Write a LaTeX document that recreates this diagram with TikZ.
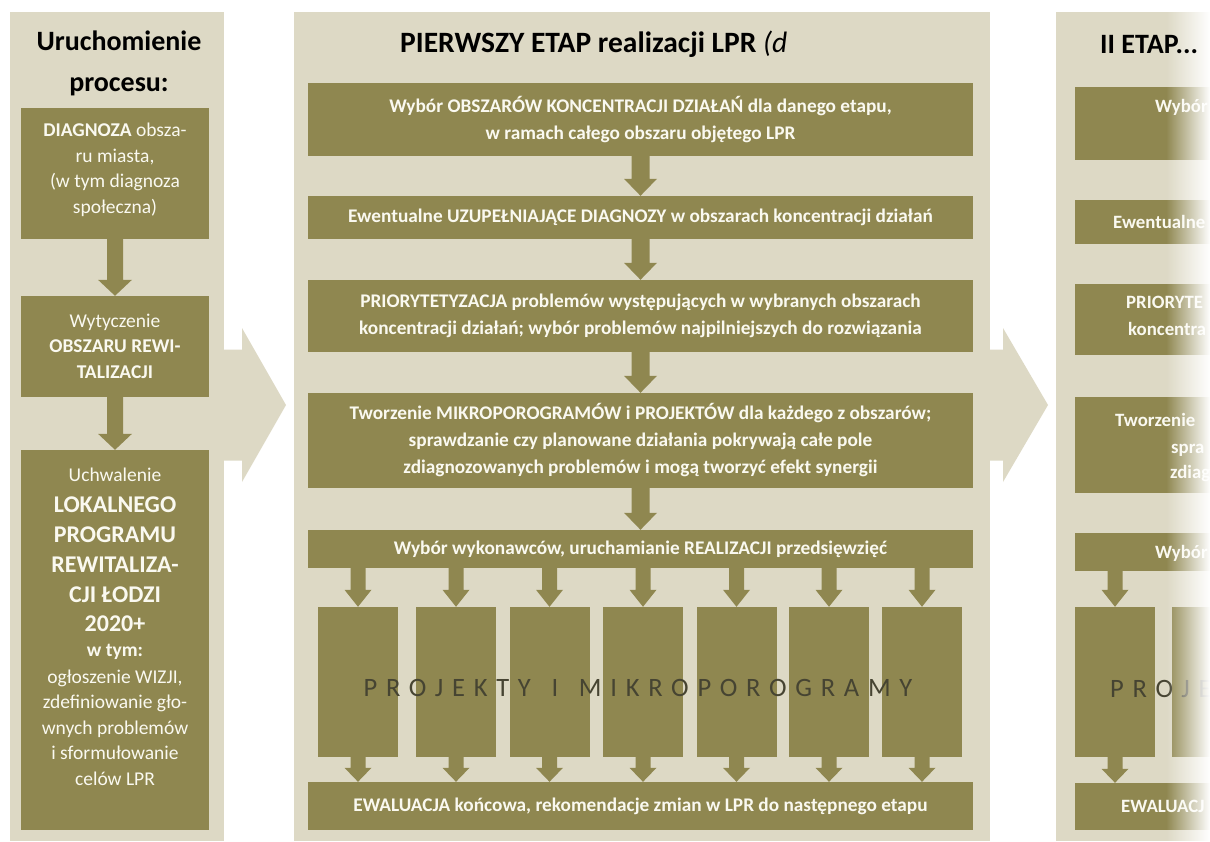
\documentclass[tikz,border=0pt]{standalone}
\usepackage{fontspec}
\setmainfont{Carlito}
\newfontfamily\spacedfont[LetterSpace=33]{Carlito}
\usetikzlibrary{calc,fadings}
\definecolor{panelbg}{RGB}{221,217,197}
\definecolor{olivebox}{RGB}{143,135,80}
\definecolor{boxtxt}{RGB}{250,249,240}
\definecolor{projtxt}{RGB}{70,68,50}
\tikzfading[name=towhite, left color=transparent!100, right color=transparent!0]
\tikzset{
  panel/.style={fill=panelbg, inner sep=0pt, draw=none},
  obox/.style={fill=olivebox, inner sep=0pt, draw=none, text=boxtxt, align=center,
    font=\fontsize{19.3}{27}\selectfont\bfseries},
  lbox/.style={fill=olivebox, inner sep=0pt, draw=none},
  ltxt/.style={text=boxtxt, inner sep=0pt, align=center, font=\fontsize{19.5}{25.5}\selectfont},
  pbox/.style={fill=olivebox, inner sep=0pt, draw=none, minimum width=80pt, minimum height=150pt},
  rtxt/.style={text=boxtxt, inner sep=0pt, anchor=base west, font=\fontsize{18.8}{27}\selectfont\bfseries},
  headtxt/.style={inner sep=0pt, text=black, font=\fontsize{28}{41}\selectfont\bfseries},
  varrow/.style n args={3}{to path={let \p1=(\tikztostart), \p2=(\tikztotarget) in
    (\x1-#1,\y1) -- (\x1-#1,\y2+#3) -- (\x1-#2,\y2+#3) -- (\x1,\y2) -- (\x1+#2,\y2+#3)
    -- (\x1+#1,\y2+#3) -- (\x1+#1,\y1) -- cycle}},
  harrow/.style n args={3}{to path={let \p1=(\tikztostart), \p2=(\tikztotarget) in
    (\x1,\y2-#1) -- (\x2-#3,\y2-#1) -- (\x2-#3,\y2-#2) -- (\x2,\y2) -- (\x2-#3,\y2+#2)
    -- (\x2-#3,\y2+#1) -- (\x1,\y2+#1) -- cycle}},
  midarrow/.style={varrow={9pt}{16.5pt}{17pt}},
  leftarrow/.style={varrow={8pt}{17pt}{16pt}},
  toparrow/.style={varrow={7.5pt}{13.5pt}{17pt}},
  botarrow/.style={varrow={7.5pt}{13.5pt}{14pt}},
  bigarrow/.style={harrow={55.5pt}{77pt}{44pt}}
}
\begin{document}
\begin{tikzpicture}[x=1pt,y=-1pt]
\useasboundingbox (0,0) rectangle (1210,841);
\fill[white] (0,0) rectangle (1210,841);

% ---------- panels ----------
\node[panel, minimum width=214pt, minimum height=829pt] (lp) at (117,426.5) {};
\node[panel, minimum width=696pt, minimum height=829pt] (mp) at (642,426.5) {};
\node[panel, minimum width=154pt, minimum height=829pt] (rp) at (1133,426.5) {};

% ---------- big arrows between panels ----------
\coordinate (tipA) at (286,405);
\coordinate (tipB) at (1048,405);
\fill[panelbg] (lp.east |- tipA) to[bigarrow] (tipA);
\fill[panelbg] (mp.east |- tipB) to[harrow={55.5pt}{77pt}{45pt}] (tipB);

% ---------- left column ----------
\node[headtxt, anchor=base] (h1a) at (119,50) {Uruchomienie};
\node[headtxt, anchor=base] (h1b) at (119,91) {procesu:};

\node[lbox, minimum width=188pt, minimum height=131pt] (lb1) at (115,173.5) {};
\node[lbox, minimum width=188pt, minimum height=101pt] (lb2) at (115,346.5) {};
\node[lbox, minimum width=188pt, minimum height=380pt] (lb3) at (115,640) {};

\node[ltxt] (lt1) at (115,170) {\textbf{DIAGNOZA} obsza-\\ru miasta,\\(w tym diagnoza\\społeczna)};
\node[ltxt] (lt2) at (115,346) {Wytyczenie\\\textbf{OBSZARU REWI-}\\\textbf{TALIZACJI}};
\node[ltxt] (lt3a) at (115,475) {Uchwalenie};
\node[ltxt, font=\fontsize{24}{29.75}\selectfont\bfseries] (lt3b) at (115,564.5)
  {LOKALNEGO\\PROGRAMU\\REWITALIZA-\\CJI ŁODZI\\2020+};
\node[ltxt, font=\fontsize{19.5}{25.5}\selectfont\bfseries] (lt3c) at (115,652) {w tym:};
\node[ltxt] (lt3d) at (115,727.5)
  {ogłoszenie WIZJI,\\zdefiniowanie gło-\\wnych problemów\\i sformułowanie\\celów LPR};

\fill[olivebox] (lb1.south) to[leftarrow] (lb2.north);
\fill[olivebox] (lb2.south) to[leftarrow] (lb3.north);

% ---------- middle column ----------
\node[headtxt, anchor=base west, font=\fontsize{29.5}{41}\selectfont\bfseries] (h2) at (400,52)
  {PIERWSZY ETAP realizacji LPR {\mdseries\itshape (d}};

\node[obox, minimum width=665pt, minimum height=73pt] (mb1) at (640.5,119.5)
  {Wybór OBSZARÓW KONCENTRACJI DZIAŁAŃ dla danego etapu,\\w ramach całego obszaru objętego LPR};
\node[obox, minimum width=665pt, minimum height=43pt] (mb2) at (640.5,217.5)
  {Ewentualne UZUPEŁNIAJĄCE DIAGNOZY w obszarach koncentracji działań};
\node[obox, minimum width=665pt, minimum height=72pt] (mb3) at (640.5,316)
  {PRIORYTETYZACJA problemów występujących w wybranych obszarach\\koncentracji działań; wybór problemów najpilniejszych do rozwiązania};
\node[obox, minimum width=665pt, minimum height=95pt] (mb4) at (640.5,440.5)
  {Tworzenie MIKROPOROGRAMÓW i PROJEKTÓW dla każdego z obszarów;\\sprawdzanie czy planowane działania pokrywają całe pole\\zdiagnozowanych problemów i mogą tworzyć efekt synergii};
\node[obox, minimum width=665pt, minimum height=38pt] (mb5) at (640.5,549)
  {Wybór wykonawców, uruchamianie REALIZACJI przedsięwzięć};
\node[obox, minimum width=665pt, minimum height=48pt] (ev) at (640.5,806)
  {EWALUACJA końcowa, rekomendacje zmian w LPR do następnego etapu};

\fill[olivebox] (mb1.south) to[midarrow] (mb2.north);
\fill[olivebox] (mb2.south) to[midarrow] (mb3.north);
\fill[olivebox] (mb3.south) to[midarrow] (mb4.north);
\fill[olivebox] (mb4.south) to[midarrow] (mb5.north);

\foreach \i/\cx in {1/358, 2/456, 3/549.5, 4/643, 5/736.5, 6/829, 7/922} {
  \node[pbox] (p\i) at (\cx,682) {};
  \fill[olivebox] (mb5.south -| p\i) to[toparrow] (p\i.north);
  \fill[olivebox] (p\i.south) to[botarrow] (ev.north -| p\i);
}
\node[inner sep=0pt, text=projtxt, font=\spacedfont\fontsize{26.5}{30}\selectfont] (ptxt) at (638,688)
  {PROJEKTY\hspace{6pt} I\hspace{6pt} MIKROPOROGRAMY};

% ---------- right column (II ETAP, cut off) ----------
\node[lbox, minimum width=135pt, minimum height=73pt] (rb1) at (1142.5,123.5) {};
\node[lbox, minimum width=135pt, minimum height=44pt] (rb2) at (1142.5,222) {};
\node[lbox, minimum width=135pt, minimum height=71pt] (rb3) at (1142.5,319.5) {};
\node[lbox, minimum width=135pt, minimum height=96pt] (rb4) at (1142.5,445) {};
\node[lbox, minimum width=135pt, minimum height=38pt] (rb5) at (1142.5,552) {};
\node[pbox] (rp1) at (1115,682) {};
\node[lbox, minimum width=38pt, minimum height=150pt] (rp2) at (1191,682) {};
\node[lbox, minimum width=135pt, minimum height=47pt] (rev) at (1142.5,806.5) {};
\fill[olivebox] (rb5.south -| rp1) to[toparrow] (rp1.north);
\fill[olivebox] (rp1.south) to[botarrow] (rev.north -| rp1);

\node[rtxt] (rt1) at (1155,112) {Wybór};
\node[rtxt] (rt2) at (1113,228) {Ewentualne};
\node[rtxt] (rt3) at (1126,308) {PRIORYTE};
\node[rtxt] (rt4) at (1128,335) {koncentra};
\node[rtxt] (rt5) at (1115,426) {Tworzenie};
\node[rtxt] (rt6) at (1171,453) {spra};
\node[rtxt] (rt7) at (1170,478) {zdiag};
\node[rtxt] (rt8) at (1155,558) {Wybór};
\node[rtxt] (rt9) at (1121,812) {EWALUACJ};
\node[inner sep=0pt, anchor=base west, text=projtxt, font=\spacedfont\fontsize{26.5}{30}\selectfont] (rpt) at (1110,697) {PROJE};

\fill[white, path fading=towhite] (1166,12) rectangle (1210,841);

\node[headtxt, anchor=base west] (h3) at (1100,53) {II ETAP...};
\end{tikzpicture}
\end{document}
